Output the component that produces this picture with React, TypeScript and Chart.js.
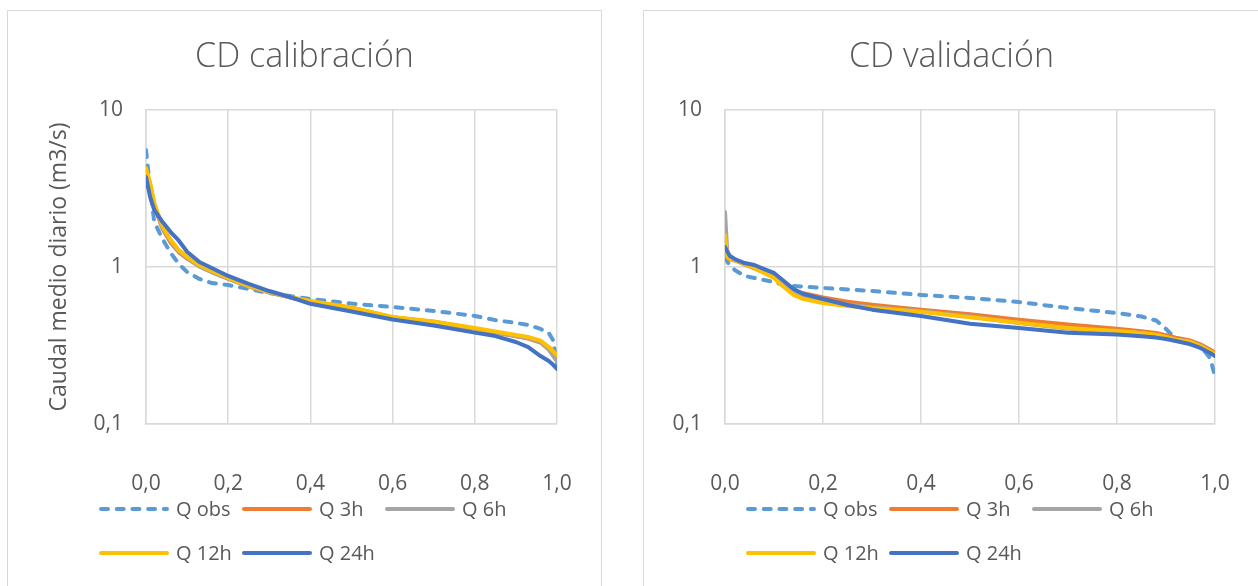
import React, { useEffect, useRef } from 'react';
import { Chart, registerables } from 'chart.js';

Chart.register(...registerables);

const FONT = '"Open Sans", "DejaVu Sans", sans-serif';
const TEXT_COLOR = '#595959';
const GRID_COLOR = '#d9d9d9';
const LINE_W = 4;

const seriesLabels = ['Q obs', 'Q 3h', 'Q 6h', 'Q 12h', 'Q 24h'];
const seriesColors = ['#5B9BD5', '#ED7D31', '#A5A5A5', '#FFC000', '#4472C4'];

const xTickValues = [0, 0.2, 0.4, 0.6, 0.8, 1];
const xTickLabels = ['0,0', '0,2', '0,4', '0,6', '0,8', '1,0'];
const yTickValues = [0.1, 1, 10];
const yTickLabels = ['0,1', '1', '10'];

// ---- CD calibración ----
const calP = [0, 0.01, 0.02, 0.04, 0.06, 0.08, 0.1, 0.13, 0.16, 0.2, 0.25, 0.3, 0.35, 0.4, 0.5, 0.6, 0.7, 0.8, 0.85, 0.9, 0.93, 0.96, 0.98, 0.99, 1.0];
const calQobs = [5.56, 3.18, 1.94, 1.51, 1.23, 1.045, 0.93, 0.84, 0.79, 0.767, 0.724, 0.682, 0.653, 0.625, 0.585, 0.556, 0.525, 0.488, 0.459, 0.44, 0.428, 0.403, 0.38, 0.343, 0.238];
const calQ3h = [4.1, 3.3, 2.45, 1.75, 1.43, 1.24, 1.13, 1.01, 0.93, 0.845, 0.752, 0.69, 0.64, 0.603, 0.548, 0.476, 0.446, 0.404, 0.383, 0.362, 0.35, 0.33, 0.298, 0.275, 0.255];
const calQ6h = [4.2, 3.35, 2.5, 1.78, 1.46, 1.26, 1.14, 1.01, 0.925, 0.84, 0.75, 0.688, 0.64, 0.603, 0.55, 0.478, 0.448, 0.405, 0.384, 0.364, 0.352, 0.333, 0.3, 0.273, 0.25];
const calQ12h = [4.27, 3.43, 2.56, 1.82, 1.49, 1.28, 1.16, 1.03, 0.944, 0.851, 0.757, 0.694, 0.644, 0.607, 0.552, 0.48, 0.45, 0.409, 0.388, 0.369, 0.358, 0.34, 0.309, 0.292, 0.275];
const calQ24h = [3.74, 2.8, 2.31, 1.94, 1.67, 1.47, 1.25, 1.076, 0.986, 0.877, 0.78, 0.703, 0.644, 0.583, 0.52, 0.463, 0.424, 0.382, 0.363, 0.333, 0.309, 0.271, 0.252, 0.239, 0.224];

// ---- CD validación ----
const valP = [0, 0.005, 0.01, 0.02, 0.04, 0.06, 0.08, 0.1, 0.12, 0.14, 0.16, 0.2, 0.25, 0.3, 0.4, 0.5, 0.6, 0.7, 0.8, 0.85, 0.88, 0.9, 0.92, 0.95, 0.97, 0.99, 1.0];
const valQobs = [1.16, 1.076, 1.03, 0.957, 0.877, 0.851, 0.826, 0.802, 0.767, 0.757, 0.75, 0.735, 0.72, 0.703, 0.664, 0.635, 0.598, 0.548, 0.509, 0.484, 0.456, 0.403, 0.347, 0.325, 0.314, 0.263, 0.202];
const valQ3h = [1.45, 1.15, 1.12, 1.1, 1.04, 0.98, 0.92, 0.86, 0.77, 0.7, 0.68, 0.64, 0.6, 0.575, 0.535, 0.5, 0.462, 0.43, 0.405, 0.39, 0.38, 0.368, 0.355, 0.34, 0.322, 0.298, 0.285];
const valQ6h = [2.24, 1.2, 1.13, 1.11, 1.05, 0.99, 0.93, 0.87, 0.78, 0.7, 0.655, 0.61, 0.578, 0.555, 0.522, 0.484, 0.44, 0.405, 0.388, 0.378, 0.368, 0.358, 0.345, 0.334, 0.316, 0.291, 0.278];
const valQ12h = [1.6, 1.16, 1.124, 1.107, 1.045, 0.986, 0.916, 0.851, 0.746, 0.664, 0.625, 0.59, 0.565, 0.548, 0.518, 0.478, 0.442, 0.409, 0.391, 0.38, 0.37, 0.358, 0.344, 0.333, 0.314, 0.292, 0.279];
const valQ24h = [1.34, 1.25, 1.175, 1.124, 1.06, 1.03, 0.97, 0.916, 0.815, 0.724, 0.673, 0.625, 0.573, 0.535, 0.488, 0.435, 0.409, 0.381, 0.372, 0.362, 0.355, 0.348, 0.338, 0.322, 0.305, 0.283, 0.271];

const OBS_DASH = [7, 8.7];

const gridLegendPlugin = {
  id: 'gridLegend',
  afterDraw(chart: any) {
    const ctx = chart.ctx as CanvasRenderingContext2D;
    const datasets = chart.data.datasets;
    const cx = chart.width / 2;
    const startX = cx - 205.5;
    const colStep = 143;
    const rows = [498, 542];
    const lineLen = 70;
    ctx.save();
    ctx.font = `20px ${FONT}`;
    ctx.textBaseline = 'middle';
    ctx.textAlign = 'left';
    datasets.forEach((ds: any, i: number) => {
      const row = i < 3 ? 0 : 1;
      const col = i < 3 ? i : i - 3;
      const x = startX + col * colStep;
      const y = rows[row];
      ctx.beginPath();
      ctx.strokeStyle = ds.borderColor;
      ctx.lineWidth = LINE_W;
      ctx.lineCap = 'round';
      ctx.setLineDash(ds.borderDash || []);
      ctx.moveTo(x + LINE_W / 2, y);
      ctx.lineTo(x + lineLen - LINE_W / 2, y);
      ctx.stroke();
      ctx.setLineDash([]);
      ctx.fillStyle = TEXT_COLOR;
      ctx.fillText(ds.label, x + lineLen + 7, y + 1);
    });
    ctx.restore();
  },
};

type Props = {
  title: string;
  p: number[];
  series: number[][];
  width: number;
  height: number;
  yTitle?: string;
  yAxisWidth: number;
};

function FlowChart({ title, p, series, width, height, yTitle, yAxisWidth }: Props) {
  const ref = useRef<HTMLCanvasElement>(null);
  useEffect(() => {
    const canvas = ref.current;
    if (!canvas) return;
    const chart = new Chart(canvas, {
      type: 'line',
      data: {
        datasets: series.map((s, i) => ({
          label: seriesLabels[i],
          data: p.map((x, j) => ({ x, y: s[j] })),
          borderColor: seriesColors[i],
          backgroundColor: seriesColors[i],
          borderWidth: LINE_W,
          borderDash: i === 0 ? OBS_DASH : [],
          borderCapStyle: 'round',
          borderJoinStyle: 'round',
          pointRadius: 0,
          pointHoverRadius: 0,
          tension: 0,
          fill: false,
          order: series.length - i,
          xAxisID: 'x',
          yAxisID: 'y',
        })),
      },
      options: {
        responsive: false,
        animation: false,
        events: [],
        layout: { padding: { left: 0, right: 0, top: 0, bottom: 89 } },
        plugins: {
          legend: { display: false },
          tooltip: { enabled: false },
          title: {
            display: true,
            text: title,
            color: TEXT_COLOR,
            font: { family: FONT, size: 34, weight: '300', lineHeight: 1.2 },
            padding: { top: 25.6, bottom: 32.6 },
          },
        },
        scales: {
          x: {
            type: 'linear',
            min: 0,
            max: 1,
            afterBuildTicks: (s: any) => {
              s.ticks = xTickValues.map((v) => ({ value: v }));
            },
            afterFit: (s: any) => {
              s.height = 73;
            },
            ticks: {
              callback: (_v: any, i: number) => xTickLabels[i],
              color: TEXT_COLOR,
              font: { family: FONT, size: 21, lineHeight: 1.2 },
              padding: 3,
              maxRotation: 0,
              autoSkip: false,
            },
            grid: {
              color: GRID_COLOR,
              lineWidth: 1.5,
              drawTicks: true,
              tickLength: 44.5,
              tickColor: 'rgba(0,0,0,0)',
            },
            border: { color: GRID_COLOR, width: 1.5 },
          },
          y: {
            type: 'logarithmic',
            position: 'left',
            min: 0.1,
            max: 10,
            afterBuildTicks: (s: any) => {
              s.ticks = yTickValues.map((v) => ({ value: v }));
            },
            afterFit: (s: any) => {
              s.width = yAxisWidth;
            },
            ticks: {
              callback: (_v: any, i: number) => yTickLabels[i],
              color: TEXT_COLOR,
              font: { family: FONT, size: 21, lineHeight: 1.2 },
              padding: 23,
              autoSkip: false,
            },
            title: {
              display: !!yTitle,
              text: yTitle || '',
              color: TEXT_COLOR,
              font: { family: FONT, size: 23, lineHeight: 1.2 },
              padding: { top: 37.2, bottom: 0 },
            },
            grid: { color: GRID_COLOR, lineWidth: 1.5, drawTicks: false },
            border: { color: GRID_COLOR, width: 1.5 },
          },
          spacer: {
            type: 'linear',
            position: 'right',
            display: true,
            afterFit: (s: any) => {
              s.width = 44;
            },
            ticks: { display: false },
            grid: { display: false, drawTicks: false },
            border: { display: false },
          },
        },
      } as any,
      plugins: [gridLegendPlugin],
    });
    return () => chart.destroy();
  }, []);
  return (
    <canvas
      ref={ref}
      width={width}
      height={height}
      style={{ position: 'absolute', left: 0, top: 0, width, height, display: 'block' }}
    />
  );
}

export default function App() {
  return (
    <div
      style={{
        position: 'absolute',
        left: 0,
        top: 0,
        width: 1258,
        height: 586,
        overflow: 'hidden',
        background: '#ffffff',
      }}
    >
      <div
        style={{
          position: 'absolute',
          left: 7,
          top: 10,
          width: 593,
          height: 600,
          border: '1px solid #d9d9d9',
        }}
      >
        <FlowChart
          title="CD calibración"
          p={calP}
          series={[calQobs, calQ3h, calQ6h, calQ12h, calQ24h]}
          width={593}
          height={575}
          yTitle="Caudal medio diario (m3/s)"
          yAxisWidth={138}
        />
      </div>
      <div
        style={{
          position: 'absolute',
          left: 643,
          top: 10,
          width: 615,
          height: 600,
          border: '1px solid #d9d9d9',
        }}
      >
        <FlowChart
          title="CD validación"
          p={valP}
          series={[valQobs, valQ3h, valQ6h, valQ12h, valQ24h]}
          width={615}
          height={575}
          yAxisWidth={81}
        />
      </div>
    </div>
  );
}
